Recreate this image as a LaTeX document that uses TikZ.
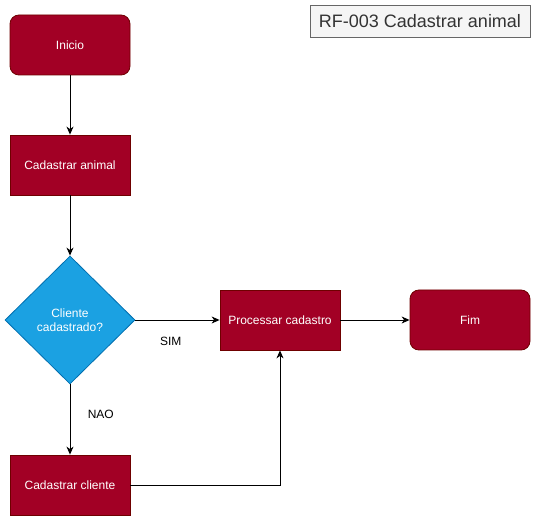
\documentclass[tikz,border=0pt]{standalone}
\usepackage{fontspec}
\setmainfont{Liberation Sans}
\usetikzlibrary{shapes.geometric,arrows.meta}
\definecolor{redfill}{HTML}{A20025}
\definecolor{redline}{HTML}{6F0000}
\definecolor{bluefill}{HTML}{1BA1E2}
\definecolor{blueline}{HTML}{006EAF}
\definecolor{titlefill}{HTML}{F5F5F5}
\definecolor{titleline}{HTML}{666666}
\definecolor{titletext}{HTML}{333333}
\tikzset{
  procbox/.style={draw=redline, fill=redfill, text=white, minimum width=120pt, minimum height=60pt, inner sep=0pt, font=\fontsize{12}{14}\selectfont, line width=0.8pt},
  termbox/.style={procbox, rounded corners=9pt},
  decbox/.style={diamond, draw=blueline, fill=bluefill, text=white, minimum width=130pt, minimum height=128pt, inner sep=0pt, aspect=1, font=\fontsize{12}{14}\selectfont, align=center, line width=0.8pt},
  titlebox/.style={draw=titleline, fill=titlefill, text=titletext, minimum width=220pt, minimum height=32pt, inner sep=0pt, font=\fontsize{18}{20}\selectfont, line width=0.8pt},
  conn/.style={draw=black, line width=0.9pt, -{Stealth[length=8pt,width=7pt,inset=2.5pt]}},
  lbl/.style={font=\fontsize{12}{14}\selectfont, text=black}
}
\begin{document}
\begin{tikzpicture}[x=1pt,y=-1pt]
\useasboundingbox (0,0) rectangle (536,521);
\fill[white] (0,0) rectangle (536,521);
\node[titlebox] (title) at (420,21) {RF-003 Cadastrar animal};
\node[termbox] (inicio) at (70,45) {Inicio};
\node[procbox] (cadanimal) at (70,165) {Cadastrar animal};
\node[decbox, minimum width=130pt, minimum height=128pt, shape aspect=1.02] (dec) at (70,320) {Cliente\\cadastrado?};
\node[procbox] (proc) at (280,320) {Processar cadastro};
\node[termbox] (fim) at (470,320) {Fim};
\node[procbox] (cadcliente) at (70,485) {Cadastrar cliente};
\coordinate (corner) at (280,485);
\draw[conn] (inicio) -- (cadanimal);
\draw[conn] (cadanimal) -- (dec);
\draw[conn] (dec.east) -- node[lbl, pos=0.42, below=13pt] {SIM} (proc.west);
\draw[conn] (dec.south) -- node[lbl, pos=0.42, right=14pt] {NAO} (cadcliente.north);
\draw[conn] (cadcliente.east) -- (corner) -- (proc.south);
\draw[conn] (proc) -- (fim);
\end{tikzpicture}
\end{document}
